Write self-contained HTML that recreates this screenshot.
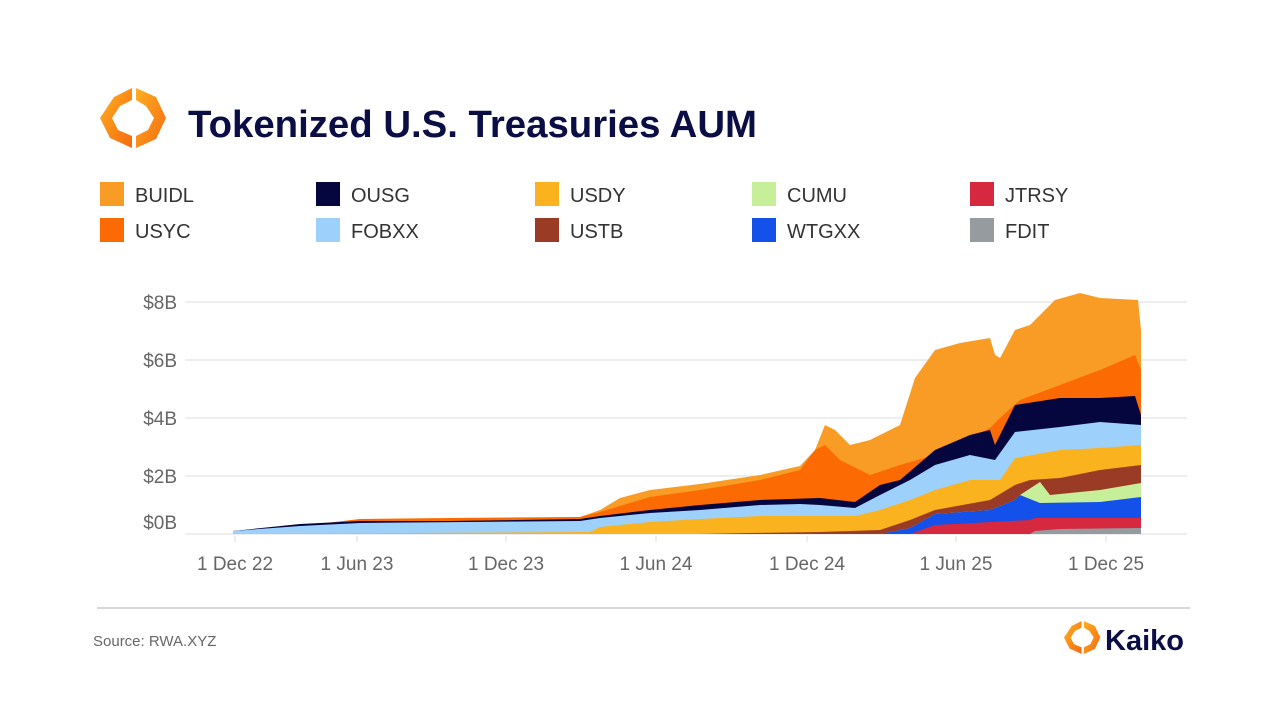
<!DOCTYPE html>
<html><head><meta charset="utf-8"><style>
body{margin:0;background:#fff;width:1280px;height:720px;overflow:hidden;font-family:"Liberation Sans",sans-serif}
</style></head><body>
<svg width="1280" height="720" xmlns="http://www.w3.org/2000/svg" font-family="Liberation Sans, sans-serif">
<defs><linearGradient id="lg" x1="0" y1="0" x2="1" y2="1"><stop offset="0" stop-color="#ffb020"/><stop offset="1" stop-color="#f46a12"/></linearGradient></defs>
<g transform="translate(100,88)">
<polygon points="32,0 14,9 0,30 10,50 32,60 32,48 18,42 12,30 20,18 32,12" fill="url(#lg)"/>
<polygon points="36,0 56,9 66,30 56,51 36,60 36,48 48,42 54,30 46,18 36,12" fill="url(#lg)"/>
</g>
<text x="188" y="137" font-size="38" font-weight="bold" fill="#0b0d45" textLength="569" lengthAdjust="spacingAndGlyphs">Tokenized U.S. Treasuries AUM</text>
<g font-size="20" fill="#333">
<rect x="100" y="182" width="24" height="24" fill="#f99c25"/><text x="135" y="202">BUIDL</text>
<rect x="316" y="182" width="24" height="24" fill="#06063f"/><text x="351" y="202">OUSG</text>
<rect x="535" y="182" width="24" height="24" fill="#fbb21f"/><text x="570" y="202">USDY</text>
<rect x="752" y="182" width="24" height="24" fill="#c7ef9a"/><text x="787" y="202">CUMU</text>
<rect x="970" y="182" width="24" height="24" fill="#d6283e"/><text x="1005" y="202">JTRSY</text>
<rect x="100" y="218" width="24" height="24" fill="#fc6a03"/><text x="135" y="238">USYC</text>
<rect x="316" y="218" width="24" height="24" fill="#9dd1fb"/><text x="351" y="238">FOBXX</text>
<rect x="535" y="218" width="24" height="24" fill="#9a3b25"/><text x="570" y="238">USTB</text>
<rect x="752" y="218" width="24" height="24" fill="#1450ea"/><text x="787" y="238">WTGXX</text>
<rect x="970" y="218" width="24" height="24" fill="#959ca0"/><text x="1005" y="238">FDIT</text>
</g>
<g stroke="#e8e8e8" stroke-width="1.5">
<line x1="185" y1="302" x2="1187" y2="302"/><line x1="185" y1="360" x2="1187" y2="360"/>
<line x1="185" y1="418" x2="1187" y2="418"/><line x1="185" y1="476" x2="1187" y2="476"/>
<line x1="185" y1="534" x2="1187" y2="534"/>
</g>
<g font-size="19" fill="#666" text-anchor="end">
<text x="177" y="309">$8B</text><text x="177" y="367">$6B</text><text x="177" y="425">$4B</text><text x="177" y="483">$2B</text><text x="177" y="529">$0B</text>
</g>
<polygon fill="#f99c25" points="233,534 233,531 300,526 360,521 450,519 580,517 600,510 620,498 650,490 700,484 760,475 800,466 815,450 825,425 835,430 850,445 870,440 900,425 915,378 935,350 960,343 990,338 995,355 1000,358 1015,330 1030,325 1055,300 1080,293 1100,298 1138,300 1141,330 1141,534"/>
<polygon fill="#fc6a03" points="233,534 233,531 300,526 360,519 450,518 580,517 600,512 650,497 700,490 760,480 800,470 815,450 825,445 840,460 870,475 900,465 935,455 965,440 990,428 1000,418 1020,400 1060,385 1100,370 1135,355 1141,370 1141,534"/>
<polygon fill="#06063f" points="233,534 233,531 300,524 360,521 450,521 580,519 600,516 650,510 700,505 760,500 820,498 855,502 880,485 900,480 935,450 970,435 990,430 995,445 1015,405 1060,398 1100,398 1135,396 1141,415 1141,534"/>
<polygon fill="#9dd1fb" points="233,534 233,531 300,526 360,523 580,521 600,518 650,513 700,510 760,505 800,504 820,505 855,508 880,495 910,480 935,465 970,455 995,460 1015,432 1060,427 1100,422 1141,425 1141,534"/>
<polygon fill="#fbb21f" points="233,534 590,532 600,527 650,522 700,519 760,516 855,516 880,510 910,500 935,490 970,480 1000,480 1015,458 1060,450 1100,448 1141,445 1141,534"/>
<polygon fill="#9a3b25" points="700,534 750,533 820,532 880,530 910,520 935,510 990,500 1015,485 1030,480 1060,478 1100,470 1141,465 1141,534"/>
<polygon fill="#c7ef9a" points="880,534 910,528 935,514 990,510 1015,500 1020,495 1040,482 1050,495 1100,490 1141,483 1141,534"/>
<polygon fill="#1450ea" points="880,534 910,528 935,514 990,510 1015,500 1020,495 1040,503 1100,502 1141,497 1141,534"/>
<polygon fill="#d6283e" points="910,534 935,525 1030,520 1035,518 1141,518 1141,534"/>
<polygon fill="#959ca0" points="1030,534 1035,531 1060,529 1141,528 1141,534"/>
<g stroke="#ddd" stroke-width="1"><line x1="235" y1="536" x2="235" y2="542"/><line x1="357" y1="536" x2="357" y2="542"/><line x1="506" y1="536" x2="506" y2="542"/><line x1="656" y1="536" x2="656" y2="542"/><line x1="807" y1="536" x2="807" y2="542"/><line x1="956" y1="536" x2="956" y2="542"/><line x1="1106" y1="536" x2="1106" y2="542"/></g>
<g font-size="19" fill="#666" text-anchor="middle">
<text x="235" y="570">1 Dec 22</text><text x="357" y="570">1 Jun 23</text><text x="506" y="570">1 Dec 23</text><text x="656" y="570">1 Jun 24</text><text x="807" y="570">1 Dec 24</text><text x="956" y="570">1 Jun 25</text><text x="1106" y="570">1 Dec 25</text>
</g>
<line x1="97" y1="608" x2="1190" y2="608" stroke="#ccc" stroke-width="1.5"/>
<text x="93" y="646" font-size="15" fill="#666">Source: RWA.XYZ</text>
<g transform="translate(1064,621) scale(0.55)">
<polygon points="32,0 14,9 0,30 10,50 32,60 32,48 18,42 12,30 20,18 32,12" fill="url(#lg)"/>
<polygon points="36,0 56,9 66,30 56,51 36,60 36,48 48,42 54,30 46,18 36,12" fill="url(#lg)"/>
</g>
<text x="1105" y="650" font-size="29" font-weight="bold" fill="#0b0d45">Kaiko</text>
</svg>
</body></html>
